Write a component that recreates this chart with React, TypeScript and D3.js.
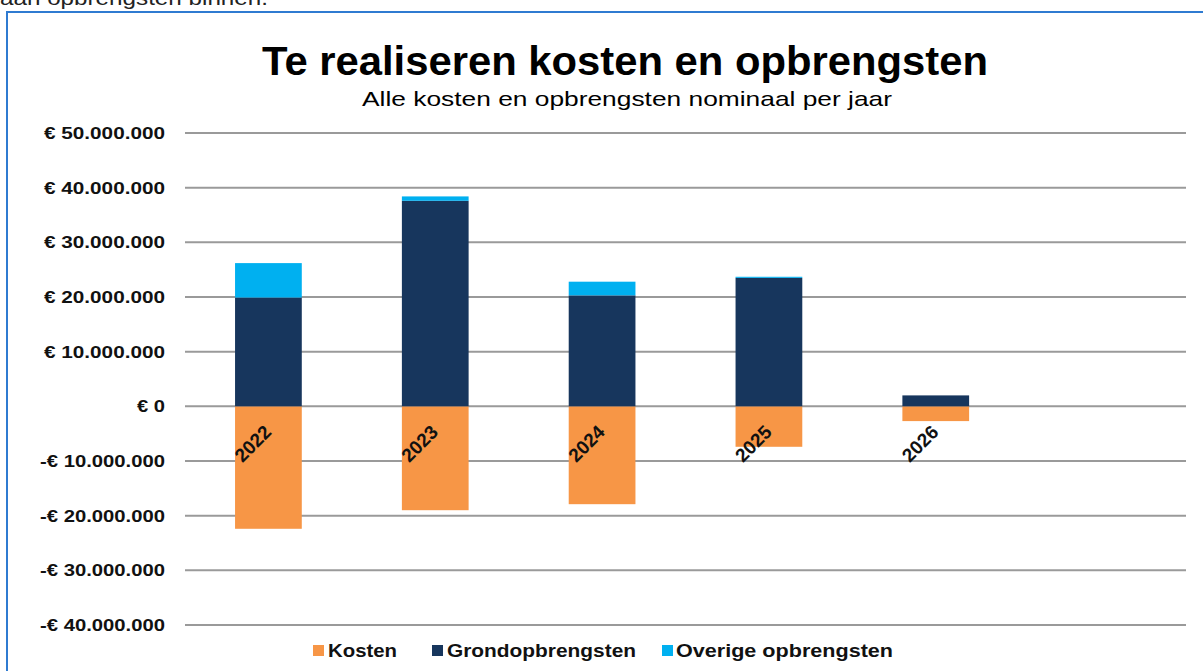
import React from 'react';
import * as d3 from 'd3';

// categories (laatste kolom is leeg in de bron)
const years = ['2022', '2023', '2024', '2025', '2026', ''];
const kosten = [-22.4e6, -19.0e6, -17.9e6, -7.4e6, -2.7e6, 0];
const grondopbrengsten = [19.9e6, 37.6e6, 20.3e6, 23.5e6, 2.0e6, 0];
const overigeOpbrengsten = [6.3e6, 0.8e6, 2.5e6, 0.2e6, 0, 0];
const yTicks = [50e6, 40e6, 30e6, 20e6, 10e6, 0, -10e6, -20e6, -30e6, -40e6];

const seriesNames = ['Kosten', 'Grondopbrengsten', 'Overige opbrengsten'];
const colors = ['#f79646', '#17365d', '#00b0f0'];

const fmt = (v: number) => {
    if (v === 0) return '€ 0';
    const s = d3.format(',')(Math.abs(v)).replace(/,/g, '.');
    return (v < 0 ? '-€ ' : '€ ') + s;
};

const App: React.FC = () => {
    const width = 1203;
    const height = 671;
    const font = '"Liberation Sans", Arial, sans-serif';

    const keys = years.map((yr, i) => yr || 'leeg' + i);

    const x = d3.scaleBand<string>()
        .domain(keys)
        .range([185, 1186])
        .paddingInner(0.6)
        .paddingOuter(0.3);

    const y = d3.scaleLinear().domain([-40e6, 50e6]).range([625, 133]);
    const zero = y(0);

    // legend positions
    const legend = [
        { sx: 313, tx: 328, w: 69 },
        { sx: 432, tx: 447, w: 189 },
        { sx: 662, tx: 676, w: 217 },
    ];

    return (
        <svg width={width} height={height} style={{ position: 'absolute', left: 0, top: 0, background: '#fff' }}>
            <text x={0} y={5} fontFamily={font} fontSize={20} fill="#222" textLength={268} lengthAdjust="spacingAndGlyphs">
                aan opbrengsten binnen.
            </text>
            <rect x={7} y={12} width={1210} height={700} fill="none" stroke="#2f7bd1" strokeWidth={2} />

            <text x={625} y={75} textAnchor="middle" fontFamily={font} fontWeight="bold" fontSize={41}
                fill="#000" textLength={726} lengthAdjust="spacingAndGlyphs">
                Te realiseren kosten en opbrengsten
            </text>
            <text x={627} y={106} textAnchor="middle" fontFamily={font} fontSize={21} fill="#000"
                textLength={530} lengthAdjust="spacingAndGlyphs">
                Alle kosten en opbrengsten nominaal per jaar
            </text>

            {/* gridlines + y labels */}
            {yTicks.map(t => (
                <g key={t}>
                    <line x1={185} x2={1186} y1={y(t)} y2={y(t)} stroke="#9a9a9a" strokeWidth={2} />
                    <text x={165} y={y(t)} dy="0.35em" textAnchor="end" fontFamily={font} fontWeight="bold"
                        fontSize={17} fill="#111"
                        textLength={t === 0 ? 28 : t < 0 ? 125 : 121} lengthAdjust="spacingAndGlyphs">
                        {fmt(t)}
                    </text>
                </g>
            ))}

            {/* bars */}
            {keys.map((k, i) => {
                const bx = x(k) || 0;
                const bw = x.bandwidth();
                const g0 = grondopbrengsten[i];
                const o0 = overigeOpbrengsten[i];
                return (
                    <g key={k}>
                        {kosten[i] < 0 && (
                            <rect x={bx} y={zero} width={bw} height={y(kosten[i]) - zero} fill={colors[0]} />
                        )}
                        {g0 > 0 && (
                            <rect x={bx} y={y(g0)} width={bw} height={zero - y(g0)} fill={colors[1]} />
                        )}
                        {o0 > 0 && (
                            <rect x={bx} y={y(g0 + o0)} width={bw} height={y(g0) - y(g0 + o0)} fill={colors[2]} />
                        )}
                    </g>
                );
            })}

            {/* category labels */}
            {keys.map((k, i) => {
                const cx = (x(k) || 0) + x.bandwidth() / 2;
                return (
                    <text key={'l' + k} transform={`translate(${cx + 4},${zero + 27}) rotate(-45)`} textAnchor="end"
                        fontFamily={font} fontWeight="bold" fontSize={19} fill="#111">
                        {years[i]}
                    </text>
                );
            })}

            {/* legend */}
            {legend.map((p, i) => (
                <g key={seriesNames[i]}>
                    <rect x={p.sx} y={645} width={11} height={11} fill={colors[i]} />
                    <text x={p.tx} y={657} fontFamily={font} fontWeight="bold" fontSize={18} fill="#111"
                        textLength={p.w} lengthAdjust="spacingAndGlyphs">
                        {seriesNames[i]}
                    </text>
                </g>
            ))}
        </svg>
    );
};

export default App;
